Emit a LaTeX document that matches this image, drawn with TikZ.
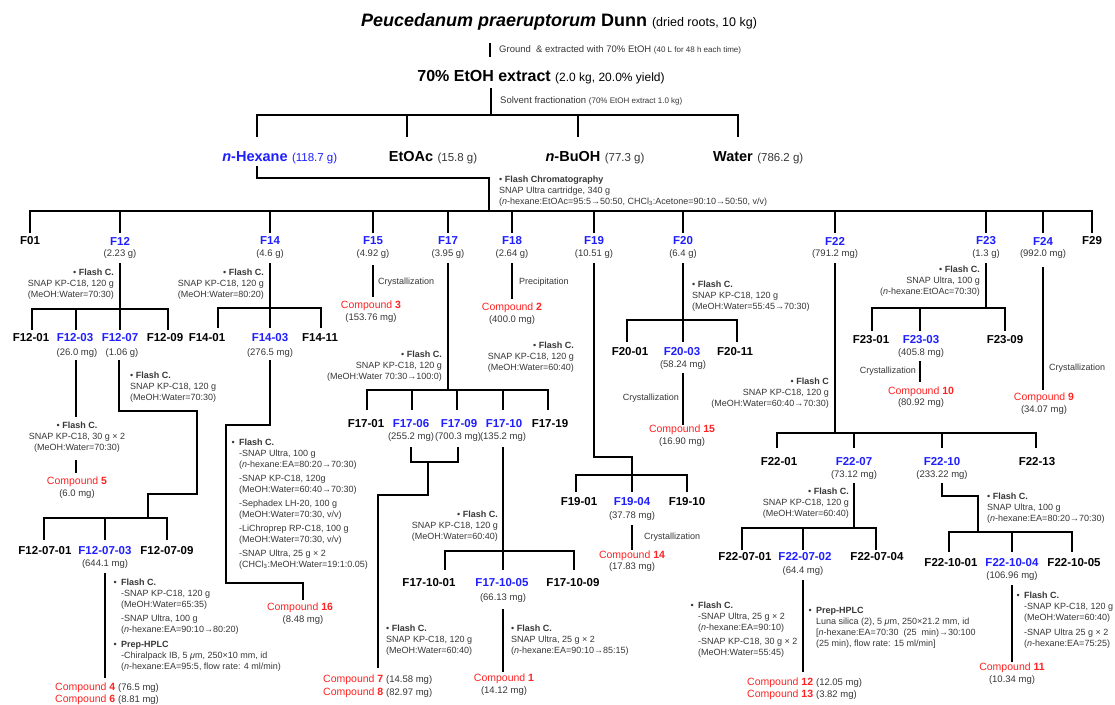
\documentclass[tikz,border=0pt]{standalone}
\usepackage{fontspec}
\setmainfont{Liberation Sans}
\definecolor{fb}{RGB}{30,30,255}
\definecolor{cr}{RGB}{255,35,35}
\definecolor{tg}{RGB}{55,55,55}
\newcommand\cpd[1]{Compound \textbf{#1}}
\newcommand\fc{\textbf{Flash C.}}
\newcommand\hb{\llap{•\hspace{4.5pt}}}
\newcommand\nh{\textit{n}-hexane}
\newcommand\msx[1]{{\color{tg}\fontsize{9.5}{11}\selectfont #1}}
\tikzset{
  ln/.style={line width=1.6pt,black},
  fr/.style={font=\fontsize{11.5}{13}\selectfont\bfseries,inner sep=0pt},
  frb/.style={fr,text=fb},
  ms/.style={font=\fontsize{9.5}{11}\selectfont,inner sep=0pt,text=tg},
  sm/.style={font=\fontsize{9}{11}\selectfont,inner sep=0pt,text=tg},
  smr/.style={sm,align=right,anchor=north east},
  sml/.style={sm,align=left,anchor=north west},
  smc/.style={sm,align=center,anchor=north},
  cp/.style={font=\fontsize{10.5}{12}\selectfont,inner sep=0pt,text=cr},
  part/.style={font=\fontsize{14.5}{16}\selectfont\bfseries,inner sep=0pt},
  partm/.style={font=\fontsize{11.5}{13}\selectfont,inner sep=0pt,text=tg,anchor=base west},
}
\begin{document}
\begin{tikzpicture}[x=1pt,y=-1pt]
\fill[white] (0,0) rectangle (1115,704);
\useasboundingbox (0,0) rectangle (1115,704);

% ---------- top ----------
\node[inner sep=0pt,font=\fontsize{18}{20}\selectfont] (title) at (559,22)
  {\textbf{\textit{Peucedanum praeruptorum} Dunn} {\fontsize{12.5}{14}\selectfont (dried roots, 10 kg)}};
\coordinate (l1a) at (490,43); \coordinate (l1b) at (490,57);
\draw[ln] (l1a) -- (l1b);
\node[anchor=west,inner sep=0pt,font=\fontsize{9.5}{11}\selectfont,text=tg] (ground) at (499,50)
  {Ground \ \& extracted with 70\% EtOH {\fontsize{8}{9}\selectfont (40 L for 48 h each time)}};
\node[inner sep=0pt,font=\fontsize{16}{18}\selectfont] (ext) at (541,77)
  {\textbf{70\% EtOH extract} {\fontsize{12}{14}\selectfont (2.0 kg, 20.0\% yield)}};
\coordinate (l2a) at (491,88); \coordinate (l2b) at (491,115);
\draw[ln] (l2a) -- (l2b);
\node[anchor=west,inner sep=0pt,font=\fontsize{9.5}{11}\selectfont,text=tg] (solv) at (500,101)
  {Solvent fractionation {\fontsize{8}{9}\selectfont (70\% EtOH extract 1.0 kg)}};
\draw[ln] (257,137) -- (257,115) -- (738,115) -- (738,137);
\draw[ln] (407,115) -- (407,137);
\draw[ln] (578,115) -- (578,137);

\node[part,text=fb] (hex) at (255,157) {\textit{n}-Hexane};
\node[partm,text=fb] (hexm) at ([xshift=4pt]hex.base east) {(118.7 g)};
\node[part] (etoac) at (411,157) {EtOAc};
\node[partm] (etoacm) at ([xshift=4pt]etoac.base east) {(15.8 g)};
\node[part] (buoh) at (573,157) {\textit{n}-BuOH};
\node[partm] (buohm) at ([xshift=4pt]buoh.base east) {(77.3 g)};
\node[part] (water) at (733,157) {Water};
\node[partm] (waterm) at ([xshift=4pt]water.base east) {(786.2 g)};

\draw[ln] (257,166) -- (257,178) -- (489,178) -- (489,211);
\node[sml] (fcm) at (499,176) {•\ \textbf{Flash Chromatography}\\ SNAP Ultra cartridge, 340 g\\
  (\nh:EtOAc=95:5→50:50, CHCl\textsubscript{3}:Acetone=90:10→50:50, v/v)};

% main bar
\draw[ln] (30,233) -- (30,211) -- (1092,211) -- (1092,233);
\foreach \x in {120,270,373,448,512,594,683,835,986,1043} \draw[ln] (\x,211) -- (\x,233);

\node[fr] (F01) at (30,241) {F01};
\node[frb] (F12) at (120,241) {F12};
\node[ms] (F12m) at (120,254) {(2.23 g)};
\node[frb] (F14) at (270,241) {F14};
\node[ms] (F14m) at (270,254) {(4.6 g)};
\node[frb] (F15) at (373,241) {F15};
\node[ms] (F15m) at (373,254) {(4.92 g)};
\node[frb] (F17) at (448,241) {F17};
\node[ms] (F17m) at (448,254) {(3.95 g)};
\node[frb] (F18) at (512,241) {F18};
\node[ms] (F18m) at (512,254) {(2.64 g)};
\node[frb] (F19) at (594,241) {F19};
\node[ms] (F19m) at (594,254) {(10.51 g)};
\node[frb] (F20) at (683,241) {F20};
\node[ms] (F20m) at (683,254) {(6.4 g)};
\node[frb] (F22) at (835,241) {F22};
\node[ms] (F22m) at (835,254) {(791.2 mg)};
\node[frb] (F23) at (986,241) {F23};
\node[ms] (F23m) at (986,254) {(1.3 g)};
\node[frb] (F24) at (1043,241) {F24};
\node[ms] (F24m) at (1043,254) {(992.0 mg)};
\node[fr] (F29) at (1092,241) {F29};

% ---------- F12 ----------
\draw[ln] (120,263) -- (120,330);
\draw[ln] (32,330) -- (32,309) -- (168,309) -- (168,330);
\draw[ln] (76,309) -- (76,330);
\node[smr] (F12fc) at (114,269) {•\ \fc\\ SNAP KP-C18, 120 g\\ (MeOH:Water=70:30)};
\node[fr] (F1201) at (31,338) {F12-01};
\node[frb] (F1203) at (75,338) {F12-03};
\node[frb] (F1207) at (120,338) {F12-07};
\node[fr] (F1209) at (165,338) {F12-09};
\node[ms] (F1203m) at (77,353) {(26.0 mg)};
\node[ms] (F1207m) at (122,353) {(1.06 g)};
\draw[ln] (76,360) -- (76,417);
\node[smc] (F1203fc) at (77,422) {•\ \fc\\ SNAP KP-C18, 30 g × 2\\ (MeOH:Water=70:30)};
\draw[ln] (76,460) -- (76,473);
\node[cp] (c5) at (77,482) {\cpd{5}};
\node[ms] (c5m) at (77,494) {(6.0 mg)};
\draw[ln] (119,360) -- (119,411) -- (197,411) -- (197,494) -- (148,494) -- (148,518);
\node[sml] (F1207fc) at (130,372) {•\ \fc\\ SNAP KP-C18, 120 g\\ (MeOH:Water=70:30)};
\draw[ln] (44,540) -- (44,518) -- (167,518) -- (167,540);
\draw[ln] (105,518) -- (105,540);
\node[fr] (F120701) at (45,551) {F12-07-01};
\node[frb] (F120703) at (105,551) {F12-07-03};
\node[fr] (F120709) at (167,551) {F12-07-09};
\node[ms] (F120703m) at (105,564) {(644.1 mg)};
\draw[ln] (105,573) -- (105,678);
\node[sml] (F120703fc) at (121,579) {\hb\fc\\ -SNAP KP-C18, 120 g\\ (MeOH:Water=65:35)\\[3pt]
  -SNAP Ultra, 100 g\\ (\nh:EA=90:10→80:20)\\[4pt] \hb\textbf{Prep-HPLC}\\
  -Chiralpack IB, 5 \textit{μ}m, 250×10 mm, id\\ (\nh:EA=95:5, flow rate: 4 ml/min)};
\node[cp,anchor=west] (c4) at (55,688) {\cpd{4} \msx{(76.5 mg)}};
\node[cp,anchor=west] (c6) at (55,700) {\cpd{6} \msx{(8.81 mg)}};

% ---------- F14 ----------
\draw[ln] (270,263) -- (270,328);
\draw[ln] (218,328) -- (218,308) -- (321,308) -- (321,328);
\node[smr] (F14fc) at (264,269) {•\ \fc\\ SNAP KP-C18, 120 g\\ (MeOH:Water=80:20)};
\node[fr] (F1401) at (207,338) {F14-01};
\node[frb] (F1403) at (270,338) {F14-03};
\node[fr] (F1411) at (320,338) {F14-11};
\node[ms] (F1403m) at (270,353) {(276.5 mg)};
\draw[ln] (270,360) -- (270,425) -- (226,425) -- (226,583) -- (303,583) -- (303,600);
\node[sml] (F1403fc) at (239,439) {\hb\fc\\ -SNAP Ultra, 100 g\\ (\nh:EA=80:20→70:30)\\[3pt]
  -SNAP KP-C18, 120g\\ (MeOH:Water=60:40→70:30)\\[3pt] -Sephadex LH-20, 100 g\\ (MeOH:Water=70:30, v/v)\\[3pt]
  -LiChroprep RP-C18, 100 g\\ (MeOH:Water=70:30, v/v)\\[3pt] -SNAP Ultra, 25 g × 2\\
  (CHCl\textsubscript{3}:MeOH:Water=19:1:0.05)};
\node[cp] (c16) at (300,608) {\cpd{16}};
\node[ms] (c16m) at (303,620) {(8.48 mg)};

% ---------- F15 ----------
\draw[ln] (373,265) -- (373,297);
\node[sm,anchor=west] (F15cr) at (378,282) {Crystallization};
\node[cp] (c3) at (371,306) {\cpd{3}};
\node[ms] (c3m) at (371,318) {(153.76 mg)};

% ---------- F17 ----------
\draw[ln] (448,263) -- (448,390);
\draw[ln] (367,410) -- (367,390) -- (548,390) -- (548,410);
\foreach \x in {412,457,503} \draw[ln] (\x,390) -- (\x,410);
\node[smr] (F17fc) at (442,351) {•\ \fc\\ SNAP KP-C18, 120 g\\ (MeOH:Water 70:30→100:0)};
\node[fr] (F1701) at (366,424) {F17-01};
\node[frb] (F1706) at (411,424) {F17-06};
\node[frb] (F1709) at (459,424) {F17-09};
\node[frb] (F1710) at (504,424) {F17-10};
\node[fr] (F1719) at (550,424) {F17-19};
\node[ms] (F1706m) at (411,437) {(255.2 mg)};
\node[ms] (F1709m) at (458,437) {(700.3 mg)};
\node[ms] (F1710m) at (503,437) {(135.2 mg)};
\draw[ln] (411,447) -- (411,462) -- (458,462) -- (458,447);
\draw[ln] (428,462) -- (428,495) -- (378,495) -- (378,668);
\node[sml] (F1706fc) at (386,625) {•\ \fc\\ SNAP KP-C18, 120 g\\ (MeOH:Water=60:40)};
\node[cp,anchor=west] (c7) at (323,680) {\cpd{7} \msx{(14.58 mg)}};
\node[cp,anchor=west] (c8) at (323,693) {\cpd{8} \msx{(82.97 mg)}};
\draw[ln] (503,447) -- (503,570);
\draw[ln] (445,570) -- (445,551) -- (574,551) -- (574,570);
\node[smr] (F1710fc) at (498,511) {•\ \fc\\ SNAP KP-C18, 120 g\\ (MeOH:Water=60:40)};
\node[fr] (F171001) at (429,583) {F17-10-01};
\node[frb] (F171005) at (502,583) {F17-10-05};
\node[fr] (F171009) at (573,583) {F17-10-09};
\node[ms] (F171005m) at (503,598) {(66.13 mg)};
\draw[ln] (503,609) -- (503,672);
\node[sml] (F171005fc) at (511,625) {•\ \fc\\ SNAP Ultra, 25 g × 2\\ (\nh:EA=90:10→85:15)};
\node[cp] (c1) at (504,679) {\cpd{1}};
\node[ms] (c1m) at (504,691) {(14.12 mg)};

% ---------- F18 ----------
\draw[ln] (512,263) -- (512,299);
\node[sm,anchor=west] (F18pr) at (519,282) {Precipitation};
\node[cp] (c2) at (512,308) {\cpd{2}};
\node[ms] (c2m) at (512,320) {(400.0 mg)};

% ---------- F19 ----------
\draw[ln] (594,263) -- (594,457) -- (632,457) -- (632,492);
\draw[ln] (576,492) -- (576,475) -- (687,475) -- (687,492);
\node[smr] (F19fc) at (574,342) {•\ \fc\\ SNAP KP-C18, 120 g\\ (MeOH:Water=60:40)};
\node[fr] (F1901) at (579,502) {F19-01};
\node[frb] (F1904) at (632,502) {F19-04};
\node[fr] (F1910) at (687,502) {F19-10};
\node[ms] (F1904m) at (632,516) {(37.78 mg)};
\draw[ln] (632,525) -- (632,550);
\node[sm,anchor=west] (F19cr) at (644,537) {Crystallization};
\node[cp] (c14) at (632,556) {\cpd{14}};
\node[ms] (c14m) at (632,567) {(17.83 mg)};

% ---------- F20 ----------
\draw[ln] (683,263) -- (683,342);
\draw[ln] (627,342) -- (627,320) -- (737,320) -- (737,342);
\node[sml] (F20fc) at (692,281) {•\ \fc\\ SNAP KP-C18, 120 g\\ (MeOH:Water=55:45→70:30)};
\node[fr] (F2001) at (630,352) {F20-01};
\node[frb] (F2003) at (682,352) {F20-03};
\node[fr] (F2011) at (735,352) {F20-11};
\node[ms] (F2003m) at (683,365) {(58.24 mg)};
\draw[ln] (683,373) -- (683,425);
\node[sm,anchor=east] (F20cr) at (679,398) {Crystallization};
\node[cp] (c15) at (682,430) {\cpd{15}};
\node[ms] (c15m) at (682,442) {(16.90 mg)};

% ---------- F22 ----------
\draw[ln] (835,263) -- (835,433);
\draw[ln] (777,448) -- (777,433) -- (1036,433) -- (1036,448);
\foreach \x in {854,942} \draw[ln] (\x,433) -- (\x,448);
\node[smr] (F22fc) at (829,378) {•\ \textbf{Flash C}\\ SNAP KP-C18, 120 g\\ (MeOH:Water=60:40→70:30)};
\node[fr] (F2201) at (779,462) {F22-01};
\node[frb] (F2207) at (854,462) {F22-07};
\node[frb] (F2210) at (942,462) {F22-10};
\node[fr] (F2213) at (1037,462) {F22-13};
\node[ms] (F2207m) at (854,475) {(73.12 mg)};
\node[ms] (F2210m) at (942,475) {(233.22 mg)};
\draw[ln] (854,483) -- (854,528);
\draw[ln] (742,550) -- (742,528) -- (876,528) -- (876,550);
\draw[ln] (803,528) -- (803,550);
\node[smr] (F2207fc) at (849,488) {•\ \fc\\ SNAP KP-C18, 120 g\\ (MeOH:Water=60:40)};
\node[fr] (F220701) at (745,557) {F22-07-01};
\node[frb] (F220702) at (805,557) {F22-07-02};
\node[fr] (F220704) at (877,557) {F22-07-04};
\node[ms] (F220702m) at (803,571) {(64.4 mg)};
\draw[ln] (803,580) -- (803,672);
\node[sml] (F220702fc) at (698,602) {\hb\fc\\ -SNAP Ultra, 25 g × 2\\ (\nh:EA=90:10)\\[3pt]
  -SNAP KP-C18, 30 g × 2\\ (MeOH:Water=55:45)};
\node[sml] (F220702hp) at (816,607) {\hb\textbf{Prep-HPLC}\\ Luna silica (2), 5 \textit{μ}m, 250×21.2 mm, id\\
  {[}\nh:EA=70:30 \ (25 \ min)→30:100\\ (25 min), flow rate: 15 ml/min{]}};
\node[cp,anchor=west] (c12) at (747,683) {\cpd{12} \msx{(12.05 mg)}};
\node[cp,anchor=west] (c13) at (747,695) {\cpd{13} \msx{(3.82 mg)}};
\draw[ln] (942,483) -- (942,496) -- (978,496) -- (978,532);
\draw[ln] (949,552) -- (949,532) -- (1072,532) -- (1072,552);
\draw[ln] (1012,532) -- (1012,552);
\node[sml] (F2210fc) at (987,493) {•\ \fc\\ SNAP Ultra, 100 g\\ (\nh:EA=80:20→70:30)};
\node[fr] (F221001) at (951,563) {F22-10-01};
\node[frb] (F221004) at (1012,563) {F22-10-04};
\node[fr] (F221005) at (1074,563) {F22-10-05};
\node[ms] (F221004m) at (1012,576) {(106.96 mg)};
\draw[ln] (1012,585) -- (1012,662);
\node[sml] (F221004fc) at (1024,592) {\hb\fc\\ -SNAP KP-C18, 120 g\\ (MeOH:Water=60:40)\\[4pt]
  -SNAP Ultra 25 g × 2\\ (\nh:EA=75:25)};
\node[cp] (c11) at (1012,668) {\cpd{11}};
\node[ms] (c11m) at (1012,680) {(10.34 mg)};

% ---------- F23 ----------
\draw[ln] (986,263) -- (986,308);
\draw[ln] (872,331) -- (872,308) -- (1005,308) -- (1005,331);
\draw[ln] (920,308) -- (920,331);
\node[smr] (F23fc) at (980,266) {•\ \fc\\ SNAP Ultra, 100 g\\ (\nh:EtOAc=70:30)};
\node[fr] (F2301) at (871,340) {F23-01};
\node[frb] (F2303) at (921,340) {F23-03};
\node[fr] (F2309) at (1005,340) {F23-09};
\node[ms] (F2303m) at (921,353) {(405.8 mg)};
\draw[ln] (920,361) -- (920,382);
\node[sm,anchor=east] (F23cr) at (916,371) {Crystallization};
\node[cp] (c10) at (921,392) {\cpd{10}};
\node[ms] (c10m) at (921,403) {(80.92 mg)};

% ---------- F24 ----------
\draw[ln] (1043,267) -- (1043,390);
\node[sm,anchor=west] (F24cr) at (1049,368) {Crystallization};
\node[cp] (c9) at (1044,398) {\cpd{9}};
\node[ms] (c9m) at (1044,410) {(34.07 mg)};
\end{tikzpicture}
\end{document}
